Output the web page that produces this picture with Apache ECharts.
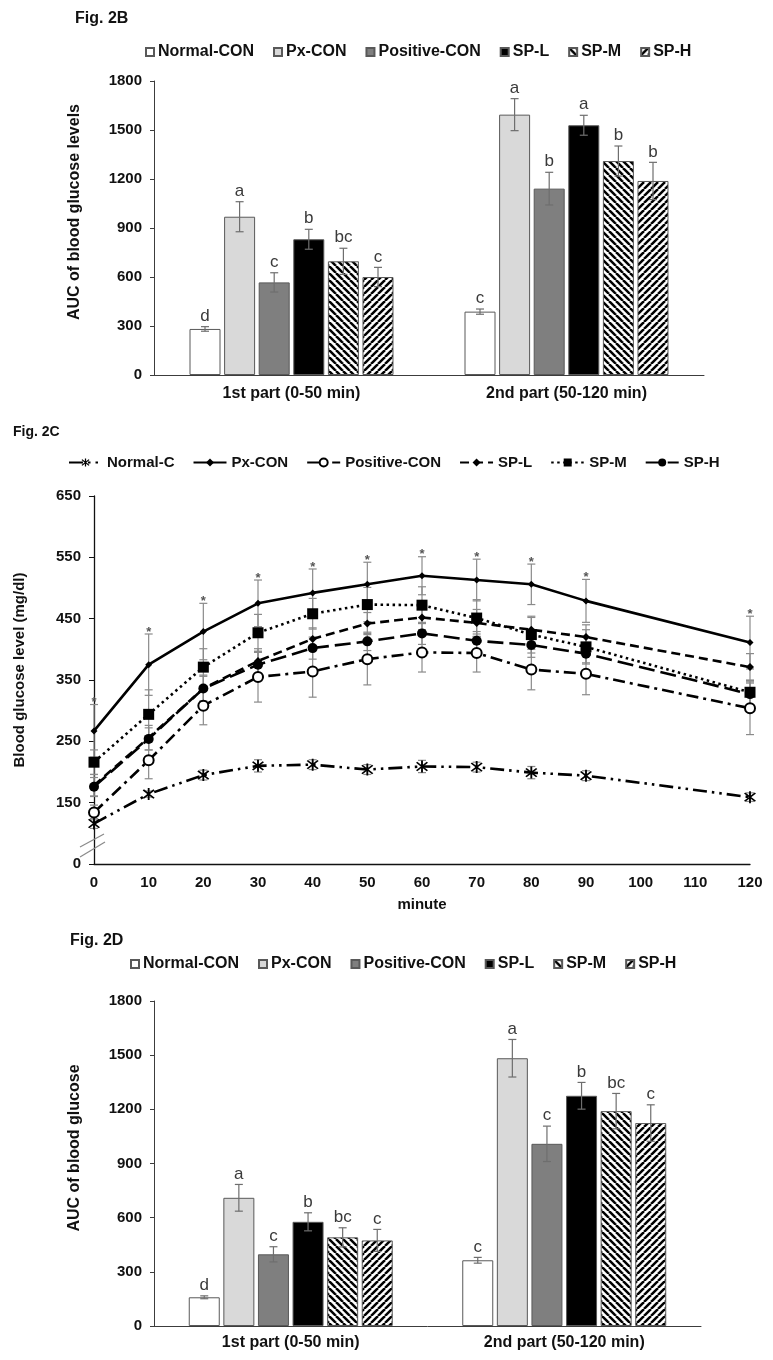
<!DOCTYPE html>
<html><head><meta charset="utf-8">
<script src="https://cdn.jsdelivr.net/npm/echarts@6/dist/echarts.min.js"></script>
<style>
html,body{margin:0;padding:0;background:#fff;}
#wrap{position:relative;width:773px;height:1360px;background:#fff;}
.c{position:absolute;left:0;width:773px;}
</style></head><body>
<div id="wrap">
<div id="cb" class="c" style="top:0;height:415px"></div>
<div id="cc" class="c" style="top:415px;height:495px"></div>
<div id="cd" class="c" style="top:910px;height:450px"></div>
</div>
<script>
// ---------- shared labels ----------
const groupNames = ['Normal-CON', 'Px-CON', 'Positive-CON', 'SP-L', 'SP-M', 'SP-H'];
const partLabels = ['1st part (0-50 min)', '2nd part (50-120 min)'];
const aucTicks = [0, 300, 600, 900, 1200, 1500, 1800];

// ---------- Fig. 2B (AUC of blood glucose levels) ----------
const bNormal   = [282, 388];
const bPx       = [969, 1594];
const bPositive = [567, 1141];
const bSPL      = [831, 1529];
const bSPM      = [696, 1310];
const bSPH      = [600, 1188];
const bNormalErr   = [14, 16];
const bPxErr       = [92, 98];
const bPositiveErr = [59, 100];
const bSPLErr      = [61, 61];
const bSPMErr      = [80, 92];
const bSPHErr      = [59, 114];
const bLetters1 = ['d', 'a', 'c', 'b', 'bc', 'c'];
const bLetters2 = ['c', 'a', 'b', 'a', 'b', 'b'];

// ---------- Fig. 2D (AUC of blood glucose) ----------
const dNormal   = [159, 364];
const dPx       = [710, 1483];
const dPositive = [397, 1009];
const dSPL      = [577, 1275];
const dSPM      = [491, 1190];
const dSPH      = [474, 1124];
const dNormalErr   = [8, 16];
const dPxErr       = [74, 104];
const dPositiveErr = [42, 98];
const dSPLErr      = [50, 74];
const dSPMErr      = [53, 98];
const dSPHErr      = [61, 101];
const dLetters1 = ['d', 'a', 'c', 'b', 'bc', 'c'];
const dLetters2 = ['c', 'a', 'c', 'b', 'bc', 'c'];

// ---------- Fig. 2C (blood glucose time course) ----------
const lineNames = ['Normal-C', 'Px-CON', 'Positive-CON', 'SP-L', 'SP-M', 'SP-H'];
const minutes = [0, 10, 20, 30, 40, 50, 60, 70, 80, 90, 120];
const minuteTicks = [0, 10, 20, 30, 40, 50, 60, 70, 80, 90, 100, 110, 120];
const glucoseTicks = [50, 150, 250, 350, 450, 550, 650];
const cNormal   = [116, 164, 195, 210, 212, 204, 209, 208, 199, 194, 159];
const cPx       = [267, 375, 429, 475, 492, 506, 520, 513, 506, 479, 411];
const cPositive = [134, 219, 308, 355, 364, 384, 395, 394, 367, 360, 304];
const cSPL      = [178, 256, 336, 381, 417, 442, 452, 443, 432, 420, 371];
const cSPM      = [216, 294, 371, 427, 458, 473, 472, 451, 424, 404, 330];
const cSPH      = [176, 254, 336, 375, 402, 413, 426, 414, 407, 393, 327];
const cNormalErr   = [8, 5, 8, 10, 8, 8, 10, 8, 10, 8, 7];
const cPxErr       = [43, 50, 46, 38, 39, 36, 31, 34, 33, 35, 43];
const cPositiveErr = [12, 30, 31, 41, 42, 42, 32, 31, 33, 34, 43];
const cSPLErr      = [18, 20, 22, 20, 18, 18, 20, 22, 20, 20, 22];
const cSPMErr      = [20, 40, 30, 30, 25, 28, 30, 30, 30, 28, 20];
const cSPHErr      = [15, 18, 20, 20, 18, 15, 18, 15, 20, 15, 18];

// ---------- styling ----------
const FONT = "'Liberation Sans', Arial, Helvetica, sans-serif";
const NARROW = "'Liberation Sans Narrow', 'Arial Narrow', 'Liberation Sans', Arial, sans-serif";
const BAR_W = 31, BAR_GAP_PX = 3.6;
const PITCH = BAR_W + BAR_GAP_PX;
const ERR_COLOR = '#6e6e6e';

function hatch(dir) {
  const s = 7;
  const c = document.createElement('canvas');
  c.width = s; c.height = s;
  const g = c.getContext('2d');
  g.fillStyle = '#fff'; g.fillRect(0, 0, s, s);
  g.strokeStyle = '#000'; g.lineWidth = 2.5;
  for (const a of [-s, 0, s]) {
    g.beginPath();
    if (dir === 'back') { g.moveTo(a, 0); g.lineTo(a + s, s); }
    else { g.moveTo(a, s); g.lineTo(a + s, 0); }
    g.stroke();
  }
  return { image: c, repeat: 'repeat' };
}
const barFills = ['#ffffff', '#d9d9d9', '#7f7f7f', '#000000', hatch('back'), hatch('fwd')];

function barPanel(el, means, errs, letters, cfg) {
  const chart = echarts.init(el, null, { renderer: 'canvas' });
  const series = [];
  groupNames.forEach((name, gi) => {
    series.push({
      type: 'bar', name: name, data: means[gi],
      barWidth: BAR_W, barGap: (BAR_GAP_PX / BAR_W * 100).toFixed(2) + '%',
      itemStyle: { color: barFills[gi], borderColor: '#595959', borderWidth: 1 },
      emphasis: { disabled: true }, z: 2, animation: false
    });
  });
  groupNames.forEach((name, gi) => {
    series.push({
      type: 'custom', z: 5, animation: false, silent: true,
      data: means[gi].map((m, k) => [k, m, errs[gi][k]]),
      encode: { x: 0, y: 1 },
      renderItem: function (params, api) {
        const k = api.value(0), m = api.value(1), e = api.value(2);
        const base = api.coord([k, m]);
        const x = base[0] + (gi - 2.5) * PITCH;
        const yt = api.coord([k, m + e])[1];
        const yb = api.coord([k, m - e])[1];
        const st = { stroke: ERR_COLOR, lineWidth: 1.2 };
        return { type: 'group', children: [
          { type: 'line', shape: { x1: x, y1: yt, x2: x, y2: yb }, style: st },
          { type: 'line', shape: { x1: x - 4, y1: yt, x2: x + 4, y2: yt }, style: st },
          { type: 'line', shape: { x1: x - 4, y1: yb, x2: x + 4, y2: yb }, style: st },
          { type: 'text', style: { text: letters[k][gi], x: x, y: yt - 2, align: 'center', verticalAlign: 'bottom',
              font: '17px ' + NARROW, fill: '#3a3a3a' } }
        ]};
      }
    });
  });
  chart.setOption({
    animation: false,
    backgroundColor: '#fff',
    title: { text: cfg.title, left: cfg.titleLeft, top: cfg.titleTop, padding: 0,
      textStyle: { fontFamily: FONT, fontWeight: 'bold', fontSize: 16, color: '#111' } },
    legend: { data: groupNames, left: cfg.legendLeft, top: cfg.legendTop, padding: 0,
      icon: 'rect', itemWidth: 8, itemHeight: 8, itemGap: 19, selectedMode: false,
      textStyle: { fontFamily: FONT, fontWeight: 'bold', fontSize: 16, color: '#111', padding: [0, 0, 0, -1] } },
    grid: cfg.grid,
    xAxis: { type: 'category', data: partLabels,
      axisLine: { lineStyle: { color: '#3c3c3c', width: 1 } }, axisTick: { show: false },
      axisLabel: { fontFamily: FONT, fontWeight: 'bold', fontSize: 16, color: '#111', margin: cfg.xMargin } },
    yAxis: { type: 'value', min: aucTicks[0], max: aucTicks[aucTicks.length - 1], interval: aucTicks[1] - aucTicks[0],
      splitLine: { show: false },
      axisLine: { show: true, lineStyle: { color: '#3c3c3c', width: 1 } },
      axisTick: { show: true, length: 4, lineStyle: { color: '#3c3c3c' } },
      axisLabel: { fontFamily: FONT, fontWeight: 'bold', fontSize: 15, color: '#111', margin: 12,
        formatter: v => String(v) } },
    graphic: [{ type: 'text', x: cfg.nameX, y: cfg.nameY, rotation: Math.PI / 2,
      style: { text: cfg.yName, align: 'center', verticalAlign: 'middle',
        font: 'bold 16px ' + FONT, fill: '#111' } }],
    series: series
  });
  return chart;
}

barPanel(document.getElementById('cb'),
  [bNormal, bPx, bPositive, bSPL, bSPM, bSPH],
  [bNormalErr, bPxErr, bPositiveErr, bSPLErr, bSPMErr, bSPHErr],
  [bLetters1, bLetters2],
  { title: 'Fig. 2B', titleLeft: 75, titleTop: 11, legendLeft: 145, legendTop: 44,
    grid: { left: 154, right: 69, top: 81, bottom: 40 }, xMargin: 11,
    yName: 'AUC of blood glucose levels', nameX: 75, nameY: 212 });

barPanel(document.getElementById('cd'),
  [dNormal, dPx, dPositive, dSPL, dSPM, dSPH],
  [dNormalErr, dPxErr, dPositiveErr, dSPLErr, dSPMErr, dSPHErr],
  [dLetters1, dLetters2],
  { title: 'Fig. 2D', titleLeft: 70, titleTop: 23, legendLeft: 130, legendTop: 46,
    grid: { left: 154, right: 72, top: 91, bottom: 34 }, xMargin: 9,
    yName: 'AUC of blood glucose', nameX: 75, nameY: 238 });

// ---------- line panel ----------
function thickSeg(x1, y1, x2, y2, t) {
  const dx = x2 - x1, dy = y2 - y1, L = Math.hypot(dx, dy);
  const nx = -dy / L * t / 2, ny = dx / L * t / 2;
  return 'M' + (x1 + nx) + ',' + (y1 + ny) + 'L' + (x2 + nx) + ',' + (y2 + ny) +
         'L' + (x2 - nx) + ',' + (y2 - ny) + 'L' + (x1 - nx) + ',' + (y1 - ny) + 'Z';
}
const asterisk = 'path://' + thickSeg(10, 0, 10, 20, 2.4) + thickSeg(3, 3, 17, 17, 2.4) + thickSeg(17, 3, 3, 17, 2.4);

const lineVals = [cNormal, cPx, cPositive, cSPL, cSPM, cSPH];
const lineErrs = [cNormalErr, cPxErr, cPositiveErr, cSPLErr, cSPMErr, cSPHErr];
const lineStyles = [
  { dash: [14, 5, 2.5, 5, 2.5, 5], symbol: asterisk, size: 12 },
  { dash: 'solid', symbol: 'diamond', size: 7 },
  { dash: [12, 5, 3, 5], symbol: 'emptyCircle', size: 10 },
  { dash: [9, 5], symbol: 'diamond', size: 8 },
  { dash: [2.5, 3.5], symbol: 'rect', size: 11 },
  { dash: [16, 6], symbol: 'circle', size: 10 }
];

const cChart = echarts.init(document.getElementById('cc'), null, { renderer: 'canvas' });
const cSeries = [];
lineNames.forEach((name, si) => {
  const ls = lineStyles[si];
  cSeries.push({
    type: 'line', name: name, z: 3,
    data: minutes.map((m, i) => [m, lineVals[si][i]]),
    symbol: ls.symbol, symbolSize: ls.size, showAllSymbol: true,
    lineStyle: { color: '#000', width: 2.6, type: ls.dash },
    itemStyle: { color: '#000', borderColor: '#000', borderWidth: ls.symbol === 'emptyCircle' ? 1 : 0 },
    emphasis: { disabled: true }, animation: false
  });
});
lineNames.forEach((name, si) => {
  cSeries.push({
    type: 'custom', z: 1, silent: true, animation: false,
    data: minutes.map((m, i) => [m, lineVals[si][i], lineErrs[si][i]]),
    encode: { x: 0, y: 1 },
    renderItem: function (params, api) {
      const xv = api.value(0), m = api.value(1), e = api.value(2);
      const p = api.coord([xv, m]);
      const yt = api.coord([xv, m + e])[1], yb = api.coord([xv, m - e])[1];
      const st = { stroke: '#8a8a8a', lineWidth: 1.2 };
      const ch = [
        { type: 'line', shape: { x1: p[0], y1: yt, x2: p[0], y2: yb }, style: st },
        { type: 'line', shape: { x1: p[0] - 4, y1: yt, x2: p[0] + 4, y2: yt }, style: st },
        { type: 'line', shape: { x1: p[0] - 4, y1: yb, x2: p[0] + 4, y2: yb }, style: st }
      ];
      if (si === 1) {
        ch.push({ type: 'text', style: { text: '*', x: p[0], y: yt - 2, align: 'center', verticalAlign: 'middle',
          font: 'bold 13px ' + FONT, fill: '#555' } });
      }
      return { type: 'group', children: ch };
    }
  });
});

cChart.setOption({
  animation: false,
  backgroundColor: '#fff',
  title: { text: 'Fig. 2C', left: 13, top: 10, padding: 0,
    textStyle: { fontFamily: FONT, fontWeight: 'bold', fontSize: 14, color: '#111' } },
  legend: { data: lineNames, left: 68, top: 40, padding: 0, itemWidth: 33, itemHeight: 10, itemGap: 18,
    selectedMode: false,
    textStyle: { fontFamily: FONT, fontWeight: 'bold', fontSize: 15, color: '#111' } },
  grid: { left: 94, right: 23, top: 81, bottom: 46 },
  xAxis: { type: 'value', min: minuteTicks[0], max: minuteTicks[minuteTicks.length - 1],
    interval: minuteTicks[1] - minuteTicks[0], splitLine: { show: false },
    axisLine: { lineStyle: { color: '#111', width: 1.3 } }, axisTick: { show: false },
    axisLabel: { fontFamily: FONT, fontWeight: 'bold', fontSize: 15, color: '#111', margin: 11 } },
  yAxis: { type: 'value', min: glucoseTicks[0], max: glucoseTicks[glucoseTicks.length - 1],
    interval: glucoseTicks[1] - glucoseTicks[0], splitLine: { show: false },
    axisLine: { show: true, lineStyle: { color: '#111', width: 1.3 } },
    axisTick: { show: true, length: 5, lineStyle: { color: '#111' } },
    axisLabel: { fontFamily: FONT, fontWeight: 'bold', fontSize: 15, color: '#111', margin: 13,
      formatter: v => (v === glucoseTicks[0] ? '0' : String(v)) } },
  series: cSeries
});
// axis-break marks and axis names
(function () {
  const o = cChart.convertToPixel({ gridIndex: 0 }, [minuteTicks[0], glucoseTicks[0]]);
  const st = { stroke: '#8a8a8a', lineWidth: 1.2 };
  cChart.setOption({ graphic: [
    { type: 'line', shape: { x1: o[0] - 14, y1: o[1] - 17, x2: o[0] + 10, y2: o[1] - 30 }, style: st, z: 10 },
    { type: 'line', shape: { x1: o[0] - 14, y1: o[1] - 7, x2: o[0] + 11, y2: o[1] - 22 }, style: st, z: 10 },
    { type: 'text', x: 20, y: 255, rotation: Math.PI / 2,
      style: { text: 'Blood glucose level (mg/dl)', align: 'center', verticalAlign: 'middle', font: 'bold 15px ' + FONT, fill: '#111' } },
    { type: 'text', x: 422, y: 490,
      style: { text: 'minute', align: 'center', verticalAlign: 'middle', font: 'bold 15px ' + FONT, fill: '#111' } }
  ]});
})();
</script>
</body></html>
